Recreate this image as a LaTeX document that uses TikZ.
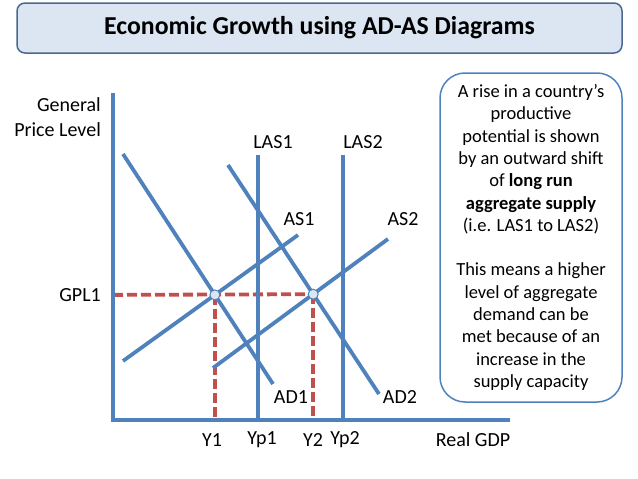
\documentclass[tikz,border=0pt]{standalone}
\usepackage{fontspec}
\setmainfont{Carlito}
\usetikzlibrary{positioning}
\definecolor{lineblue}{HTML}{4F81BD}
\definecolor{dashred}{HTML}{C0504D}
\definecolor{titlefill}{HTML}{DCE6F2}
\definecolor{titleedge}{HTML}{4A6891}

\begin{document}
\begin{tikzpicture}[x=1pt, y=-1pt,
    curve/.style={lineblue, line width=3.8pt},
    guide/.style={dashred, line width=3.8pt, dash pattern=on 10pt off 4pt},
    lbl/.style={font=\fontsize{20}{25}\selectfont, inner sep=0pt},
    eqm/.style={draw=lineblue, fill=titlefill, circle, line width=1pt, minimum size=10pt, inner sep=0pt}]
    \useasboundingbox (0,0) rectangle (638,479);

    % Title and note
    \node (title) [draw=titleedge, line width=1.5pt, fill=titlefill, rounded corners=8pt,
        minimum width=605pt, minimum height=50pt,
        font=\fontsize{25.8}{30}\selectfont\bfseries] at (319.5,28) {Economic Growth using AD-AS Diagrams};
    \node (note) [draw=lineblue, line width=1.5pt, rounded corners=25pt,
        minimum width=182pt, minimum height=329pt, align=center,
        font=\fontsize{18.5}{22.3}\selectfont] at (531,237.5)
        {A rise in a country’s\\ productive\\ potential is shown\\ by an outward shift\\
         of \textbf{long run}\\ \textbf{aggregate supply}\\ (i.e. LAS1 to LAS2)\\[22.3pt]
         This means a higher\\ level of aggregate\\ demand can be\\ met because of an\\
         increase in the\\ supply capacity};

    % Points
    \coordinate (O) at (113,420);
    \coordinate (ytop) at (113,93);
    \coordinate (xend) at (510,420);
    \coordinate (las1t) at (258,155);
    \coordinate (las1b) at (258,420);
    \coordinate (las2t) at (343,155);
    \coordinate (las2b) at (343,420);
    \coordinate (ad1t) at (123,154);
    \coordinate (ad1b) at (273,384);
    \coordinate (ad2t) at (228,165);
    \coordinate (ad2b) at (379,394);
    \coordinate (as1b) at (123,361);
    \coordinate (as1t) at (298,235);
    \coordinate (as2b) at (213,368);
    \coordinate (as2t) at (388,239);
    \coordinate (E1) at (intersection of ad1t--ad1b and as1b--as1t);
    \coordinate (E2) at (intersection of ad2t--ad2b and as2b--as2t);
    \coordinate (gpl) at (O |- E1);

    % Guides
    \draw[guide] (gpl) -- (E2);
    \draw[guide] (E1) -- (E1 |- O);
    \draw[guide] (E2) -- (E2 |- O);

    % Curves
    \draw[curve] (ytop) -- (O) -- (xend);
    \draw[curve] (las1t) -- (las1b);
    \draw[curve] (las2t) -- (las2b);
    \draw[curve] (ad1t) -- (ad1b);
    \draw[curve] (ad2t) -- (ad2b);
    \draw[curve] (as1b) -- (as1t);
    \draw[curve] (as2b) -- (as2t);
    \node (e1) [eqm] at (E1) {};
    \node (e2) [eqm] at (E2) {};

    % Labels
    \node (ylab) [lbl, align=right, anchor=east] at (101,117) {General\\ Price Level};
    \node (gpllab) [lbl, anchor=east] at (101,295) {GPL1};
    \node (las1lab) [lbl] at (273,142) {LAS1};
    \node (las2lab) [lbl] at (363,142) {LAS2};
    \node (as1lab) [lbl] at (299,219) {AS1};
    \node (as2lab) [lbl] at (403,219) {AS2};
    \node (ad1lab) [lbl] at (291,397) {AD1};
    \node (ad2lab) [lbl] at (400,397) {AD2};
    \node (y1lab) [lbl] at (212,440) {Y1};
    \node (yp1lab) [lbl] at (262,440) {Yp1};
    \node (y2lab) [lbl] at (313,440) {Y2};
    \node (yp2lab) [lbl] at (345,440) {Yp2};
    \node (xlab) [lbl] at (473,440) {Real GDP};
\end{tikzpicture}
\end{document}
